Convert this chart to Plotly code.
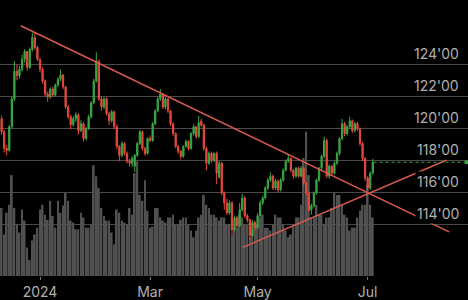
import pandas as pd
import plotly.graph_objects as go

# ---------------- data ----------------
closed_days = ["2023-12-25", "2024-01-01", "2024-03-29"]
dates = [d.strftime("%Y-%m-%d") for d in pd.bdate_range("2023-12-08", "2024-07-03")
         if d.strftime("%Y-%m-%d") not in closed_days]

opens = [
    120.60, 119.79, 118.74, 118.62, 120.10, 121.84, 123.57, 123.30, 123.69, 124.31,
    124.80, 123.81, 124.93, 125.67, 125.05, 124.31, 123.69, 122.95, 122.14, 121.96,
    122.45, 122.08, 122.70, 123.07, 123.32, 122.58, 121.34, 120.72, 120.23, 120.60,
    120.85, 119.86, 120.29, 119.36, 119.98, 120.72, 121.59, 122.95, 124.19, 121.84,
    121.34, 121.84, 120.91, 120.47, 121.03, 120.10, 118.87, 118.31, 119.05, 118.43,
    117.94, 117.82, 117.63, 118.31, 119.05, 119.79, 118.74, 118.43, 119.36, 119.24,
    120.29, 121.09, 121.84, 122.14, 121.34, 121.84, 121.09, 120.29, 119.67, 118.87,
    118.56, 118.25, 118.87, 119.18, 118.74, 119.67, 120.10, 119.49, 120.45, 120.20,
    118.74, 117.82, 118.43, 118.00, 118.43, 116.95, 117.82, 115.96, 115.34, 114.72,
    115.34, 113.67, 114.41, 113.92, 114.91, 115.65, 114.54, 114.29, 113.30, 114.11,
    113.80, 114.54, 115.34, 115.65, 116.27, 116.76, 117.01, 116.27, 116.70, 116.15,
    116.76, 117.38, 117.94, 118.12, 117.38, 117.01, 117.51, 117.01, 117.51, 116.58,
    115.96, 114.91, 115.16, 115.96, 116.76, 117.51, 118.25, 119.24, 117.01, 117.63,
    117.20, 117.82, 118.43, 119.36, 120.29, 119.67, 120.10, 120.47, 119.86, 120.29,
    119.98, 119.05, 118.12, 116.89, 116.27, 117.20,
]
highs = [
    120.80, 119.90, 118.95, 120.20, 122.00, 124.20, 124.00, 123.90, 124.60, 124.95,
    124.85, 125.05, 125.98, 125.95, 125.15, 124.40, 123.80, 123.05, 122.30, 122.55,
    122.60, 122.80, 123.20, 123.69, 123.40, 122.65, 121.45, 120.85, 120.75, 121.00,
    120.95, 120.50, 120.40, 120.10, 120.85, 121.70, 123.10, 124.75, 124.30, 122.00,
    121.95, 121.95, 121.05, 121.15, 121.10, 120.25, 118.95, 119.20, 119.15, 118.55,
    118.10, 118.25, 118.40, 119.15, 119.90, 119.85, 118.85, 119.45, 119.55, 120.40,
    121.20, 121.95, 122.45, 122.20, 121.95, 121.90, 121.15, 120.35, 119.75, 118.95,
    118.65, 118.95, 119.30, 119.25, 119.75, 120.25, 120.15, 120.78, 120.60, 120.30,
    118.85, 118.55, 118.55, 118.50, 118.55, 117.95, 117.90, 116.05, 115.60, 115.50,
    115.45, 114.55, 114.50, 115.34, 115.90, 115.75, 114.65, 114.35, 114.25, 114.20,
    114.70, 115.50, 115.80, 116.40, 116.90, 117.26, 117.10, 116.85, 116.80, 116.90,
    117.50, 118.05, 118.37, 118.20, 117.45, 117.60, 117.60, 117.65, 117.60, 116.65,
    116.05, 115.30, 116.05, 116.85, 117.60, 118.35, 119.49, 119.36, 117.75, 117.70,
    117.95, 118.55, 119.45, 120.60, 120.40, 120.20, 120.72, 120.55, 120.40, 120.40,
    120.05, 119.15, 118.20, 117.00, 117.30, 118.10,
]
lows = [
    119.60, 118.50, 118.31, 118.55, 120.00, 121.70, 123.00, 123.10, 123.55, 124.10,
    123.60, 123.70, 124.80, 124.90, 124.20, 123.50, 122.80, 122.00, 121.65, 121.85,
    121.95, 121.98, 122.60, 122.95, 122.45, 121.20, 120.60, 119.95, 120.10, 120.40,
    119.60, 119.75, 119.18, 119.25, 119.90, 120.60, 121.50, 122.85, 121.70, 121.10,
    121.20, 120.80, 120.20, 120.35, 119.95, 118.70, 117.94, 118.20, 118.30, 117.80,
    117.60, 117.60, 117.26, 118.20, 118.95, 118.60, 118.30, 118.35, 119.15, 119.15,
    120.20, 121.00, 121.70, 121.20, 121.20, 120.95, 120.15, 119.50, 118.75, 118.40,
    118.06, 118.15, 118.80, 118.60, 118.65, 119.55, 119.35, 119.40, 120.10, 118.60,
    117.38, 117.70, 117.85, 117.90, 116.50, 116.85, 115.80, 114.91, 114.60, 114.60,
    113.36, 113.55, 113.80, 113.85, 114.80, 114.40, 114.10, 112.99, 113.20, 113.60,
    113.70, 114.45, 115.20, 115.55, 116.15, 116.65, 116.15, 116.15, 116.00, 116.05,
    116.65, 117.30, 117.85, 117.25, 116.85, 116.90, 116.90, 116.95, 116.45, 115.85,
    114.80, 114.60, 115.05, 115.85, 116.65, 117.40, 118.15, 116.89, 116.85, 117.05,
    117.10, 117.70, 118.30, 119.25, 119.50, 119.55, 119.95, 119.70, 119.75, 119.85,
    118.90, 117.95, 116.70, 116.08, 116.15, 117.10,
]
closes = [
    119.79, 118.74, 118.62, 120.10, 121.84, 123.57, 123.30, 123.69, 124.31, 124.80,
    123.81, 124.93, 125.67, 125.05, 124.31, 123.69, 122.95, 122.14, 121.96, 122.45,
    122.08, 122.70, 123.07, 123.32, 122.58, 121.34, 120.72, 120.23, 120.60, 120.85,
    119.86, 120.29, 119.36, 119.98, 120.72, 121.59, 122.95, 124.19, 121.84, 121.34,
    121.84, 120.91, 120.47, 121.03, 120.10, 118.87, 118.31, 119.05, 118.43, 117.94,
    117.82, 118.12, 118.31, 119.05, 119.79, 118.74, 118.43, 119.36, 119.24, 120.29,
    121.09, 121.84, 122.14, 121.34, 121.84, 121.09, 120.29, 119.67, 118.87, 118.56,
    118.25, 118.87, 119.18, 118.74, 119.67, 120.10, 119.49, 120.35, 120.20, 118.74,
    117.82, 118.43, 118.00, 118.43, 117.20, 117.82, 115.96, 115.34, 114.72, 115.34,
    113.67, 114.41, 113.92, 114.91, 115.65, 114.54, 114.29, 113.30, 114.11, 113.80,
    114.54, 115.34, 115.65, 116.27, 116.76, 117.01, 116.27, 116.70, 116.15, 116.76,
    117.38, 117.94, 118.12, 117.38, 117.01, 117.51, 117.01, 117.51, 116.58, 115.96,
    114.91, 115.16, 115.96, 116.76, 117.51, 118.25, 119.24, 117.01, 117.63, 117.20,
    117.82, 118.43, 119.36, 120.29, 119.67, 120.10, 120.47, 119.86, 120.29, 119.98,
    119.05, 118.12, 116.89, 116.27, 117.20, 117.88,
]
# volume, thousands of contracts
volumes = [
    172, 105, 160, 180, 255, 172, 130, 110, 168, 140,
    72, 40, 90, 105, 122, 168, 180, 155, 142, 190,
    152, 122, 190, 160, 178, 210, 190, 140, 135, 118,
    118, 160, 148, 122, 122, 130, 280, 252, 222, 172,
    152, 140, 140, 110, 80, 168, 160, 140, 135, 130,
    172, 155, 260, 290, 205, 190, 242, 165, 122, 125,
    172, 172, 148, 140, 135, 148, 148, 155, 130, 130,
    142, 148, 148, 130, 115, 98, 115, 148, 155, 205,
    180, 172, 155, 155, 148, 140, 148, 148, 130, 130,
    105, 122, 122, 155, 148, 130, 130, 98, 115, 130,
    130, 148, 155, 122, 122, 115, 130, 155, 148, 148,
    130, 115, 98, 105, 130, 148, 148, 180, 298, 365,
    255, 148, 148, 180, 155, 155, 130, 148, 148, 172,
    210, 205, 205, 180, 155, 148, 115, 122, 122, 148,
    165, 180, 180, 230, 180, 148,
]

price_ticks = [114, 116, 118, 120, 122, 124]
price_labels = ["114'00", "116'00", "118'00", "120'00", "122'00", "124'00"]
x_tick_dates = ["2024-01-02", "2024-03-01", "2024-05-01", "2024-07-01"]
x_tick_labels = ["2024", "Mar", "May", "Jul"]

# trend lines: (bar index, price) end points
trend_down_x = [7.5, 174.8]
trend_down_y = [126.41, 113.53]
trend_up_x = [94.2, 173.9]
trend_up_y = [112.56, 118.02]

last_price = closes[-1]

GREEN = "#3aa745"
RED = "#e54b3c"
TREND = "#d95a4e"
LABEL = "#b0b0b0"
FONT = "Inter, Roboto, sans-serif"

fig = go.Figure()
fig.add_trace(go.Bar(
    x=dates, y=volumes, yaxis="y",
    marker=dict(color="#505050", line=dict(width=0)),
    hoverinfo="skip", showlegend=False,
))
fig.add_trace(go.Candlestick(
    x=dates, open=opens, high=highs, low=lows, close=closes, yaxis="y2",
    increasing=dict(line=dict(color=GREEN, width=1), fillcolor=GREEN),
    decreasing=dict(line=dict(color=RED, width=1), fillcolor=RED),
    whiskerwidth=0, showlegend=False, hoverinfo="skip",
))

x_max = 182.19
shapes = [
    dict(type="line", xref="x", yref="y2", x0=trend_down_x[0], x1=trend_down_x[1],
         y0=trend_down_y[0], y1=trend_down_y[1], line=dict(color=TREND, width=1.5)),
    dict(type="line", xref="x", yref="y2", x0=trend_up_x[0], x1=trend_up_x[1],
         y0=trend_up_y[0], y1=trend_up_y[1], line=dict(color=TREND, width=1.5)),
    dict(type="line", xref="x", yref="y2", x0=len(dates) - 1 + 0.3, x1=x_max,
         y0=last_price, y1=last_price, line=dict(color=GREEN, width=1, dash="3px,3px")),
    dict(type="rect", xref="paper", yref="y2", x0=0.993, x1=1.0,
         y0=last_price - 0.12, y1=last_price + 0.12, line=dict(width=0), fillcolor=GREEN),
]

annotations = [
    dict(x=0.986, xref="paper", y=p, yref="y2", text=t, showarrow=False,
         xanchor="right", yanchor="bottom", yshift=0, bgcolor="black", borderpad=1,
         font=dict(family=FONT, size=14, color=LABEL))
    for p, t in zip(price_ticks, price_labels)
]

fig.update_layout(
    width=468, height=300, autosize=False,
    paper_bgcolor="black", plot_bgcolor="black",
    margin=dict(l=0, r=0, t=0, b=21),
    font=dict(family=FONT, color=LABEL),
    showlegend=False, bargap=0.3,
    shapes=shapes, annotations=annotations,
    xaxis=dict(
        type="category", range=[-0.625, x_max],
        tickmode="array", tickvals=x_tick_dates, ticktext=x_tick_labels,
        tickfont=dict(family=FONT, size=14, color=LABEL),
        ticks="outside", ticklen=3, tickcolor="#777", showgrid=False,
        zeroline=False, showline=False, rangeslider=dict(visible=False),
    ),
    yaxis=dict(range=[0, 697.5], visible=False, showgrid=False, fixedrange=True),
    yaxis2=dict(
        overlaying="y", side="right", range=[110.77, 128.02],
        tickmode="array", tickvals=price_ticks, showticklabels=False,
        showgrid=True, gridcolor="#4a4a4a", gridwidth=1, zeroline=False,
        showline=False, ticks="",
    ),
)

fig.write_html("out.html", config={"displayModeBar": False})
